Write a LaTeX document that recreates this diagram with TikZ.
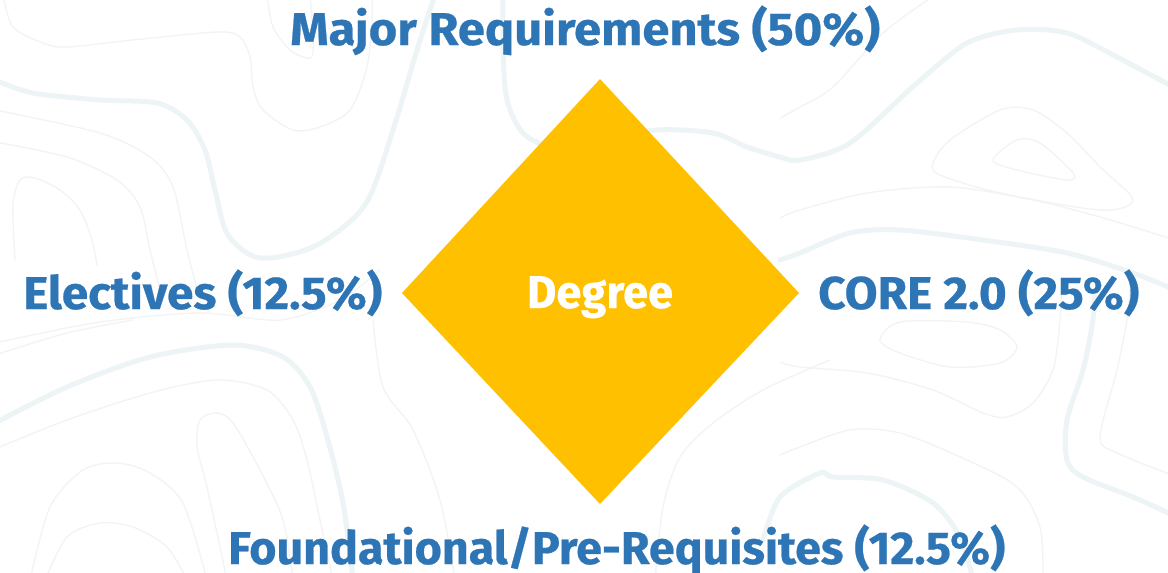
\documentclass[tikz,border=0pt]{standalone}
\usepackage{graphicx}
\usepackage{fontspec}
\setmainfont{Fira Sans}[BoldFeatures={FakeBold=0.5}]
\definecolor{labblue}{HTML}{2E75B6}
\definecolor{gold}{HTML}{FFC000}
\definecolor{topothick}{HTML}{EDF4F6}
\definecolor{topothin}{HTML}{F1F3F4}
\newcommand\fitw[2]{\resizebox{#1}{\height}{#2}}
\tikzset{
  lab/.style={inner sep=0pt, anchor=base west, text=labblue, font=\fontsize{46}{50}\selectfont\bfseries},
  thick topo/.style={draw=topothick, line width=5pt, line cap=round},
  thin topo/.style={draw=topothin, line width=1.3pt, line cap=round},
}
\begin{document}
\begin{tikzpicture}[x=1pt,y=-1pt]
\fill[white] (0,0) rectangle (1168,573);
\useasboundingbox (0,0) rectangle (1168,573);
\begin{scope}
\clip (0,0) rectangle (1168,573);
% thick contours
\draw[thick topo] plot[smooth] coordinates {(-5,80) (33,93) (100,100) (157,103) (187,120) (205,150) (215,190) (228,235) (260,258) (315,246) (365,205) (393,130) (417,50) (435,-5)};
\draw[thick topo] plot[smooth] coordinates {(503,-5) (503,50) (507,100) (523,133) (553,147) (600,140) (657,130) (713,133) (747,147) (780,157) (800,160) (850,143) (917,83) (967,43) (1017,30) (1067,33) (1117,57) (1175,88)};
\draw[thick topo] plot[smooth] coordinates {(780,260) (800,253) (850,233) (900,230) (983,240) (1067,253) (1133,273) (1175,290)};
\draw[thick topo] plot[smooth] coordinates {(1095,290) (1093,320) (1083,370) (1067,420) (1067,460) (1083,477) (1133,497) (1175,516)};
\draw[thick topo] plot[smooth] coordinates {(763,540) (780,497) (820,473) (833,477) (883,480) (933,503) (960,537) (973,580)};
\draw[thick topo] plot[smooth] coordinates {(-5,423) (67,387) (150,357) (233,345) (283,357) (310,387) (327,437) (343,503) (353,580)};
% thin contours
\draw[thin topo] plot[smooth] coordinates {(3,-5) (13,27) (43,43) (67,47) (133,40) (217,32) (240,37) (250,57) (253,87) (263,110) (293,130) (320,127) (350,110) (367,67) (372,20) (372,-5)};
\draw[thin topo] plot[smooth] coordinates {(267,-5) (273,27) (290,50) (307,58) (313,53) (312,20) (310,-5)};
\draw[thin topo] plot[smooth] coordinates {(-5,110) (100,133) (150,157) (173,187) (187,250) (200,300)};
\draw[thin topo] plot[smooth] coordinates {(-5,142) (67,157) (117,180) (140,207) (150,250) (160,290)};
\draw[thin topo] plot[smooth] coordinates {(15,260) (13,205) (20,180) (35,178) (60,190) (80,210) (92,240) (97,265)};
\draw[thin topo] plot[smooth] coordinates {(-5,343) (100,322) (200,313) (280,320) (340,300) (380,270)};
\draw[thin topo] plot[smooth] coordinates {(-5,355) (67,333) (133,320)};
\draw[thin topo] plot[smooth] coordinates {(-5,449) (67,420) (150,393) (217,380) (267,390) (293,420) (307,460) (320,520) (333,580)};
\draw[thin topo] plot[smooth] coordinates {(227,580) (207,487) (197,447) (200,420) (217,413) (233,423) (260,470) (283,520) (293,580)};
\draw[thin topo] plot[smooth] coordinates {(30,580) (50,507) (83,470) (117,463) (150,473) (183,503) (207,580)};
\draw[thin topo] plot[smooth] coordinates {(45,580) (67,537) (100,523) (133,527) (167,547) (187,580)};
\draw[thin topo] plot[smooth] coordinates {(373,320) (383,387) (413,430) (440,500) (455,580)};
\draw[thin topo] plot[smooth] coordinates {(780,118) (800,107) (833,87) (883,33) (935,-5)};
\draw[thin topo] plot[smooth cycle] coordinates {(933,163) (950,140) (1000,110) (1033,110) (1067,133) (1100,167) (1133,200) (1100,210) (1000,193) (940,175)};
\draw[thin topo] plot[smooth cycle] coordinates {(993,160) (1017,140) (1040,143) (1073,173) (1067,180) (1017,170)};
\draw[thin topo] plot[smooth] coordinates {(780,218) (800,210) (867,193) (950,187) (1033,200) (1100,217) (1175,240)};
\draw[thin topo] plot[smooth cycle] coordinates {(880,340) (900,353) (950,367) (1000,363) (1017,347) (1000,330) (967,322) (900,322)};
\draw[thin topo] plot[smooth] coordinates {(780,362) (800,367) (867,373) (933,390) (983,413) (1007,417) (1033,403) (1053,370) (1060,320) (1062,280)};
\draw[thin topo] plot[smooth] coordinates {(1130,290) (1127,320) (1117,370) (1100,437) (1117,453) (1175,476)};
\draw[thin topo] plot[smooth] coordinates {(780,455) (800,447) (850,430) (900,433) (967,460) (1017,487) (1040,527) (1043,580)};
\draw[thin topo] plot[smooth] coordinates {(830,360) (763,390) (713,423) (680,457) (663,507) (655,580)};
\end{scope}
% diamond
\coordinate (dtop) at (600,79);
\coordinate (dright) at (799,293);
\coordinate (dbottom) at (600,504);
\coordinate (dleft) at (402,293);
\fill[gold] (dtop) -- (dright) -- (dbottom) -- (dleft) -- cycle;
\node[lab, text=white, anchor=base] (deg) at (600,308) {\fitw{146pt}{Degree}};
% labels
\node[lab] (major) at (290,45) {\fitw{590pt}{Major Requirements (50\%)}};
\node[lab] (elect) at (23,309) {\fitw{359pt}{Electives (12.5\%)}};
\node[lab] (core) at (818,309) {\fitw{321pt}{CORE 2.0 (25\%)}};
\node[lab] (found) at (228,564) {\fitw{777pt}{Foundational/Pre-Requisites (12.5\%)}};
\end{tikzpicture}
\end{document}
